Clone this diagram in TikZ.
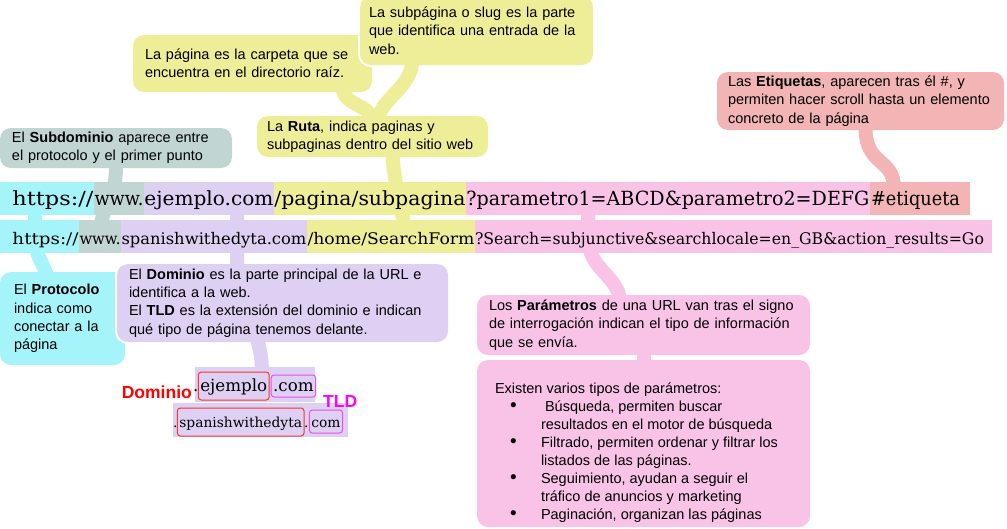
\documentclass[tikz,border=0pt]{standalone}
\usepackage{fontspec}
\setmainfont{Liberation Sans}
\newfontfamily\urlfont{DejaVu Serif}
\usetikzlibrary{calc}
\definecolor{cyanc}{HTML}{A4F4F9}
\definecolor{grayc}{HTML}{C1D5D3}
\definecolor{purplec}{HTML}{DDD0F3}
\definecolor{yellowc}{HTML}{EEEE99}
\definecolor{pinkc}{HTML}{F9C3E8}
\definecolor{salmonc}{HTML}{F2B4B4}
\definecolor{redc}{HTML}{FF0000}
\definecolor{redbox}{HTML}{F03838}
\definecolor{magc}{HTML}{FF00FF}
\definecolor{magbox}{HTML}{E850E8}
\newcommand\bitem{\makebox[46pt][l]{\hspace*{15pt}{\fontsize{19}{18}\selectfont\textbullet}}}
\newcommand\bcont{\hspace*{46pt}}
% fixed-width URL segment: width, text
\newcommand\useg[2]{\makebox[#1pt][c]{\resizebox{\dimexpr#1pt-1pt\relax}{\height}{#2}}}
\pgfdeclarelayer{back}
\pgfdeclarelayer{mid}
\pgfsetlayers{back,mid,main}
\tikzset{
  box/.style={rounded corners=11pt, align=left, anchor=north west, outer sep=0pt, inner ysep=0pt,
    font=\fontsize{14.5}{18.3}\selectfont},
  conn/.style={line width=14pt, line cap=butt},
  seg/.style={inner xsep=0pt, inner ysep=0pt, anchor=base west, outer sep=0pt},
  segA/.style={seg, text height=23pt, text depth=10pt, font=\urlfont\fontsize{19.5}{20}\selectfont},
  segB/.style={seg, text height=24pt, text depth=9pt, font=\urlfont\fontsize{16}{17}\selectfont},
  dtxtA/.style={inner sep=0pt, outer sep=0pt, anchor=base west, font=\urlfont\fontsize{16.7}{18}\selectfont},
  dtxtB/.style={inner sep=0pt, outer sep=0pt, anchor=base west, font=\urlfont\fontsize{13.8}{16}\selectfont},
  dbox/.style={rounded corners=3pt, line width=1pt, inner xsep=2pt, inner ysep=1.5pt, outer sep=0pt, anchor=base west},
}
\begin{document}
\begin{tikzpicture}[x=1pt,y=-1pt]
\clip (0,0) rectangle (1007,528);
\useasboundingbox (0,0) rectangle (1007,528);

% ---------- lower boxes and white outlines
\begin{pgfonlayer}{back}
\node[box, fill=yellowc, text width=215pt, inner xsep=12pt, minimum height=57pt] (page) at (133,35)
  {La página es la carpeta que se\\encuentra en el directorio raíz.};
\node[box, fill=cyanc, text width=97pt, inner xsep=14pt, minimum height=93pt] (proto) at (0,272)
  {El \textbf{Protocolo}\\indica como\\conectar a la\\página};
\draw[white, line width=4pt, rounded corners=11pt] (360,-4) rectangle (593,65);
\draw[white, line width=4pt, rounded corners=11pt] (117,264) rectangle (448,342);
\end{pgfonlayer}

% ---------- upper boxes
\node[box, fill=yellowc, text width=215pt, inner xsep=9pt, minimum height=69pt] (subpage) at (360,-4)
  {La subpágina o slug es la parte\\que identifica una entrada de la\\web.};
\node[box, fill=yellowc, text width=211pt, inner xsep=10pt, minimum height=41pt] (ruta) at (257,116)
  {La \textbf{Ruta}, indica paginas y\\subpaginas dentro del sitio web};
\node[box, fill=grayc, text width=208pt, inner xsep=12pt, minimum height=40pt] (subd) at (0,128)
  {El \textbf{Subdominio} aparece entre\\el protocolo y el primer punto};
\node[box, fill=salmonc, text width=265pt, inner xsep=11pt, minimum height=58pt] (etiq) at (717,72)
  {Las \textbf{Etiquetas}, aparecen tras él \#, y\\permiten hacer scroll hasta un elemento\\concreto de la página};
\node[box, fill=purplec, text width=307pt, inner xsep=12pt, minimum height=78pt] (dom) at (117,264)
  {El \textbf{Dominio} es la parte principal de la URL e\\identifica a la web.\\El \textbf{TLD} es la extensión del dominio e indican\\qué tipo de página tenemos delante.};
\node[box, fill=pinkc, text width=309pt, inner xsep=12pt, minimum height=60pt] (params) at (477,295)
  {Los \textbf{Parámetros} de una URL van tras el signo\\de interrogación indican el tipo de información\\que se envía.};
\node[box, fill=pinkc, minimum width=333pt, minimum height=167pt, inner xsep=0pt] (types) at (477,360) {};
\node[anchor=north west, align=left, inner sep=0pt, outer sep=0pt, font=\fontsize{14.5}{18}\selectfont] (typestxt) at (495,382.6)
  {Existen varios tipos de parámetros:\\
   \bitem\ Búsqueda, permiten buscar\\
   \bcont resultados en el motor de búsqueda\\
   \bitem Filtrado, permiten ordenar y filtrar los\\
   \bcont listados de las páginas.\\
   \bitem Seguimiento, ayudan a seguir el\\
   \bcont tráfico de anuncios y marketing\\
   \bitem Paginación, organizan las páginas};

% ---------- URL row 1
\node[segA, fill=cyanc] (r1a) at (12,205) {\useg{82}{https://}};
\node[segA, fill=grayc] (r1b) at (r1a.base east) {\useg{50}{www.}};
\node[segA, fill=purplec] (r1c) at (r1b.base east) {\useg{130}{ejemplo.com}};
\node[segA, fill=yellowc] (r1d) at (r1c.base east) {\useg{192}{/pagina/subpagina}};
\node[segA, fill=pinkc] (r1e) at (r1d.base east) {\useg{404}{?parametro1=ABCD\&parametro2=DEFG}};
\node[segA, fill=salmonc] (r1f) at (r1e.base east) {\makebox[100pt][l]{\hspace*{1pt}\resizebox{89pt}{\height}{\#etiqueta}}};
\fill[cyanc] (0,182) rectangle (r1a.south west);

% ---------- URL row 2
\node[segB, fill=cyanc] (r2a) at (12,244) {\useg{67}{https://}};
\node[segB, fill=grayc] (r2b) at (r2a.base east) {\useg{42}{www.}};
\node[segB, fill=purplec] (r2c) at (r2b.base east) {\useg{186}{spanishwithedyta.com}};
\node[segB, fill=yellowc] (r2d) at (r2c.base east) {\useg{168}{/home/SearchForm}};
\node[segB, fill=pinkc] (r2e) at (r2d.base east) {\makebox[517pt][l]{\resizebox{509pt}{\height}{?Search=subjunctive\&searchlocale=en\_GB\&action\_results=Go}}};
\fill[cyanc] (0,220) rectangle (r2a.south west);

% ---------- domain / TLD illustration
\node[fill=purplec, minimum width=120pt, minimum height=35pt, inner sep=0pt, outer sep=0pt, anchor=north west] (dA) at (195,367) {};
\node[fill=purplec, minimum width=175pt, minimum height=34pt, inner sep=0pt, outer sep=0pt, anchor=north west] (dB) at (173,403) {};
\node[dtxtA] (dA1) at (193,391) {.};
\node[dbox, draw=redbox, text height=17.5pt, text depth=7.5pt, font=\urlfont\fontsize{16.7}{18}\selectfont] (dA2) at (dA1.base east) {ejemplo};
\node[dbox, draw=magbox, text height=14.5pt, text depth=4.5pt, font=\urlfont\fontsize{16.7}{18}\selectfont] (dA3) at ([xshift=2pt]dA2.base east) {.com};
\node[dtxtB] (dB1) at (173,427) {.};
\node[dbox, draw=redbox, text height=17.5pt, text depth=7.5pt, font=\urlfont\fontsize{13.8}{16}\selectfont] (dB2) at (dB1.base east) {spanishwithedyta};
\node[dtxtB] (dB3) at (dB2.base east) {.};
\node[dbox, draw=magbox, text height=15.5pt, text depth=4.5pt, font=\urlfont\fontsize{13.8}{16}\selectfont] (dB4) at ([xshift=1pt]dB3.base east) {com};
\node[anchor=base east, inner sep=0pt, text=redc, font=\fontsize{17.5}{18}\selectfont\bfseries] (lblDom) at (192,398) {Dominio};
\node[anchor=base west, inner sep=0pt, text=magc, font=\fontsize{17.5}{18}\selectfont\bfseries] (lblTLD) at (323,407) {TLD};

% ---------- connectors
\coordinate (pa) at ([xshift=-18pt]r1a.center);
\coordinate (pc) at ([xshift=28pt]r1c.center);
\coordinate (pe) at ([xshift=-80pt]r1e.center);
\begin{pgfonlayer}{mid}
\draw[conn, cyanc] (pa) -- (pa |- r2a.center) .. controls +(0,25) and +(0,-20) .. ([xshift=-15pt,yshift=-12pt]proto.north);
\draw[conn, grayc] (subd.south) .. controls +(0,30) and +(0,-30) .. (r2b.center);
\draw[conn, purplec] (pc) -- (pc |- dom.north) .. controls +(0,55) and +(0,-50) .. ([xshift=7pt,yshift=-6pt]dA.north);
\draw[conn, yellowc] ([xshift=90pt,yshift=6pt]page.south) .. controls +(0,22) and +(0,-22) .. ([yshift=-8pt]ruta.north);
\draw[conn, yellowc] ([xshift=-64pt,yshift=6pt]subpage.south) .. controls +(0,30) and +(0,-25) .. ([xshift=5pt,yshift=-8pt]ruta.north);
\draw[conn, yellowc] ([xshift=20pt,yshift=6pt]ruta.south) .. controls +(0,30) and +(0,-20) .. ([xshift=14pt]r2d.center);
\draw[conn, pinkc] (pe) -- (pe |- r2e.center) .. controls +(0,35) and +(0,-30) .. ([xshift=-23pt,yshift=-10pt]params.north);
\draw[conn, pinkc] (params.center) -- (types.center);
\draw[conn, salmonc] ([xshift=5pt,yshift=2pt]etiq.south) .. controls +(0,38) and +(0,-30) .. ([xshift=-26pt,yshift=-6pt]r1f.north);
\end{pgfonlayer}
\end{tikzpicture}
\end{document}
